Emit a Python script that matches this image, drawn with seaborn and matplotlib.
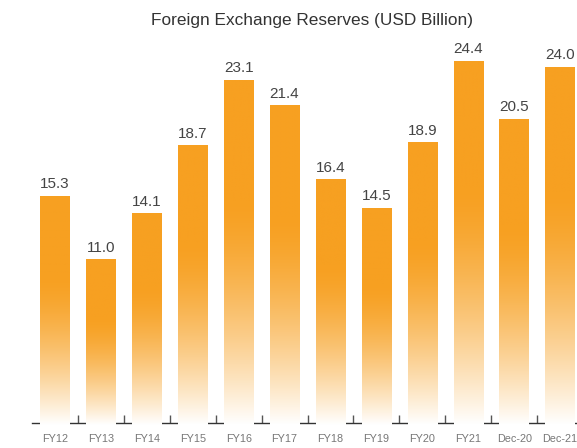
import numpy as np
import pandas as pd
import matplotlib
matplotlib.use('Agg')
import matplotlib.pyplot as plt
import seaborn as sns
from matplotlib.colors import to_rgb

# Chart data
categories = ['FY12', 'FY13', 'FY14', 'FY15', 'FY16', 'FY17', 'FY18',
              'FY19', 'FY20', 'FY21', 'Dec-20', 'Dec-21']
reserves = [15.3, 11.0, 14.1, 18.7, 23.1, 21.4, 16.4, 14.5, 18.9, 24.4, 20.5, 24.0]

df = pd.DataFrame({'period': categories, 'reserves': reserves})

sns.set_style('white')
plt.rcParams['font.family'] = ['Liberation Sans', 'DejaVu Sans']

fig = plt.figure(figsize=(5.77, 4.48), dpi=100)
ax = fig.add_axes([32 / 577, 25 / 448, 551 / 577, 385 / 448])

sns.barplot(data=df, x='period', y='reserves', width=0.64, ax=ax,
            color='#F7A021', edgecolor='none', zorder=2)

# Vertical gradient: solid orange at the top fading to white at the bottom
orange = np.array(to_rgb('#F7A021'))
t = np.linspace(0, 1, 256)[:, None]
mix = 1 - (1 - np.clip(t / 0.65, 0, 1)) ** 1.5
grad = (1 - mix) * np.ones(3) + mix * orange
grad = grad[:, None, :]

for patch, val in zip(ax.patches, reserves):
    x0 = patch.get_x()
    w = patch.get_width()
    patch.set_visible(False)
    # extend a little below zero so the bar hides the axis line
    im = ax.imshow(grad, extent=[x0, x0 + w, -0.15, val], origin='lower',
                   aspect='auto', zorder=3, interpolation='bilinear')
    im.set_clip_on(False)
    ax.annotate(f'{val:.1f}', (x0 + w / 2, val), xytext=(0, 4),
                textcoords='offset points', ha='center', va='bottom',
                fontsize=11, color='#444444')

ax.set_xlim(-0.5, len(categories) - 0.5)
ax.set_ylim(0, 26)

# Axis styling
for side in ['top', 'right', 'left']:
    ax.spines[side].set_visible(False)
ax.spines['bottom'].set_color('#333333')
ax.spines['bottom'].set_linewidth(1)
ax.spines['bottom'].set_zorder(1)
ax.set_yticks([])
ax.set_xlabel('')
ax.set_ylabel('')
ax.set_xticks(range(len(categories)))
ax.set_xticklabels(categories)
ax.tick_params(axis='x', which='major', bottom=True, length=0, pad=8,
               labelsize=7.8, labelcolor='#777777')
ax.set_xticks(np.arange(0.5, len(categories), 1), minor=True)
ax.tick_params(axis='x', which='minor', bottom=True, direction='in',
               length=6, width=1, color='#555555')

fig.text(312 / 577, 1 - 20 / 448, 'Foreign Exchange Reserves (USD Billion)',
         ha='center', va='center', fontsize=12.4, color='#333333')

fig.savefig('out.png', dpi=100)
